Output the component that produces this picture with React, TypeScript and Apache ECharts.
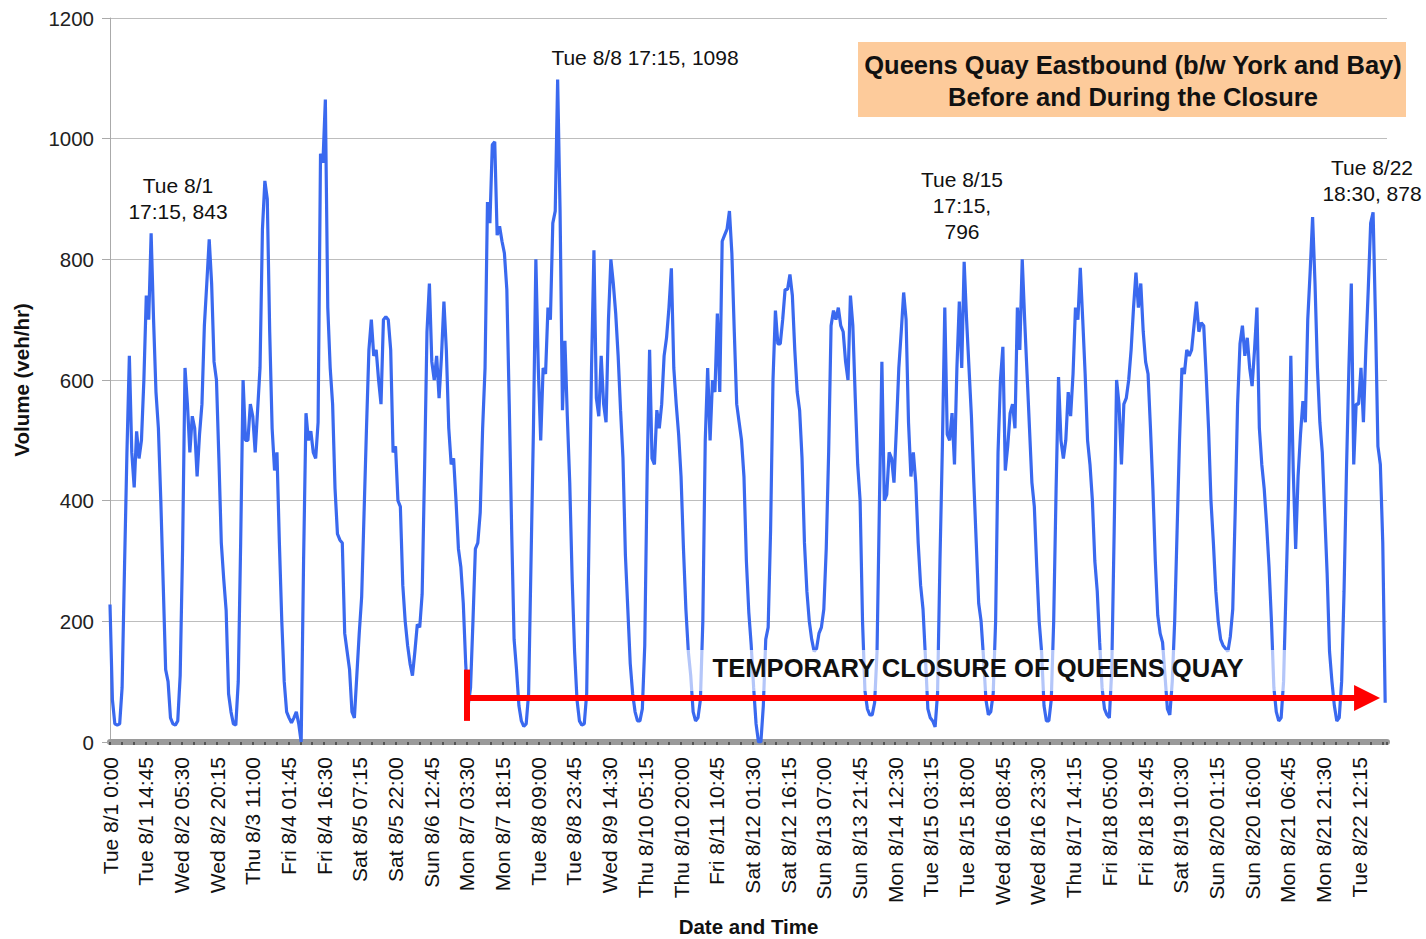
import React, { useEffect, useRef } from 'react';
import * as echarts from 'echarts';

// Tick labels every 14:45 (59 quarter-hours)
const tickLabels = [
  'Tue 8/1 0:00', 'Tue 8/1 14:45', 'Wed 8/2 05:30', 'Wed 8/2 20:15', 'Thu 8/3 11:00',
  'Fri 8/4 01:45', 'Fri 8/4 16:30', 'Sat 8/5 07:15', 'Sat 8/5 22:00', 'Sun 8/6 12:45',
  'Mon 8/7 03:30', 'Mon 8/7 18:15', 'Tue 8/8 09:00', 'Tue 8/8 23:45', 'Wed 8/9 14:30',
  'Thu 8/10 05:15', 'Thu 8/10 20:00', 'Fri 8/11 10:45', 'Sat 8/12 01:30', 'Sat 8/12 16:15',
  'Sun 8/13 07:00', 'Sun 8/13 21:45', 'Mon 8/14 12:30', 'Tue 8/15 03:15', 'Tue 8/15 18:00',
  'Wed 8/16 08:45', 'Wed 8/16 23:30', 'Thu 8/17 14:15', 'Fri 8/18 05:00', 'Fri 8/18 19:45',
  'Sat 8/19 10:30', 'Sun 8/20 01:15', 'Sun 8/20 16:00', 'Mon 8/21 06:45', 'Mon 8/21 21:30',
  'Tue 8/22 12:15',
];

// Hourly volumes (veh/hr), hours 0..23, one array per day
const aug01 = [228, 70, 30, 28, 30, 90, 290, 480, 640, 480, 422, 515, 470, 500, 600, 740, 700, 843, 700, 580, 520, 400, 260, 120];
const aug02 = [100, 40, 30, 28, 35, 110, 320, 620, 560, 480, 540, 520, 440, 510, 560, 690, 760, 833, 760, 630, 600, 470, 330, 270];
const aug03 = [218, 80, 50, 30, 28, 100, 330, 600, 500, 500, 560, 540, 480, 550, 620, 850, 930, 900, 680, 520, 450, 480, 330, 200];
const aug04 = [100, 50, 40, 32, 40, 50, 30, 0, 300, 545, 500, 515, 480, 470, 530, 975, 960, 1065, 720, 620, 560, 420, 345, 335];
const aug05 = [330, 180, 150, 120, 50, 40, 110, 180, 240, 380, 520, 650, 700, 640, 650, 600, 560, 700, 705, 700, 650, 480, 490, 400];
const aug06 = [390, 260, 200, 160, 130, 110, 150, 195, 190, 245, 450, 680, 760, 630, 600, 640, 570, 640, 730, 650, 520, 460, 470, 400];
const aug07 = [320, 290, 230, 130, 60, 90, 200, 320, 330, 380, 520, 620, 895, 860, 990, 995, 840, 855, 830, 810, 750, 560, 350, 170];
const aug08 = [120, 60, 35, 26, 30, 80, 300, 520, 800, 620, 500, 620, 610, 720, 700, 860, 880, 1098, 880, 550, 665, 540, 430, 270];
const aug09 = [150, 70, 35, 28, 30, 80, 350, 620, 815, 570, 540, 640, 560, 530, 700, 800, 760, 710, 640, 550, 470, 310, 220, 130];
const aug10 = [80, 50, 35, 35, 55, 160, 450, 650, 470, 460, 550, 520, 560, 640, 670, 720, 785, 620, 560, 510, 440, 320, 220, 150];
const aug11 = [110, 50, 35, 40, 70, 200, 500, 620, 500, 600, 580, 710, 580, 830, 840, 850, 880, 810, 680, 560, 530, 500, 440, 300];
const aug12 = [215, 160, 90, 30, 0, 0, 60, 170, 190, 350, 600, 715, 660, 660, 700, 750, 750, 775, 740, 650, 580, 550, 470, 330];
const aug13 = [250, 200, 170, 150, 155, 180, 190, 220, 320, 480, 690, 715, 700, 720, 690, 680, 630, 600, 740, 690, 570, 460, 400, 200];
const aug14 = [85, 55, 45, 45, 65, 150, 400, 630, 400, 410, 480, 470, 430, 520, 620, 680, 745, 700, 530, 440, 480, 430, 330, 260];
const aug15 = [220, 140, 55, 40, 35, 25, 80, 300, 490, 720, 510, 500, 545, 460, 620, 730, 620, 796, 700, 620, 540, 430, 330, 230];
const aug16 = [200, 140, 70, 45, 50, 80, 200, 480, 600, 655, 450, 490, 545, 560, 520, 720, 650, 800, 700, 610, 520, 430, 390, 290];
const aug17 = [200, 150, 60, 35, 35, 70, 200, 420, 605, 500, 470, 500, 580, 540, 610, 720, 700, 786, 700, 610, 500, 460, 400, 300];
const aug18 = [250, 165, 90, 55, 45, 40, 120, 350, 600, 560, 460, 560, 570, 600, 650, 720, 778, 720, 760, 680, 630, 610, 520, 420];
const aug19 = [300, 210, 180, 165, 110, 55, 45, 100, 200, 350, 500, 620, 610, 650, 640, 650, 690, 730, 680, 695, 690, 610, 520, 400];
const aug20 = [330, 250, 200, 170, 160, 155, 150, 175, 220, 380, 560, 660, 690, 640, 670, 620, 590, 650, 720, 520, 460, 420, 360, 290];
const aug21 = [200, 90, 50, 35, 40, 100, 250, 400, 640, 450, 320, 440, 510, 565, 530, 700, 780, 870, 760, 620, 530, 480, 380, 280];
const aug22 = [150, 100, 60, 35, 40, 100, 250, 450, 620, 760, 460, 560, 560, 620, 530, 650, 750, 860, 878, 700, 490, 460, 330, 65];

const days = [aug01, aug02, aug03, aug04, aug05, aug06, aug07, aug08, aug09, aug10, aug11,
  aug12, aug13, aug14, aug15, aug16, aug17, aug18, aug19, aug20, aug21, aug22];

// closure arrow (quarter-hour index, volume)
const closureStart = 590; // Mon 8/7 03:30
const closureEnd = 2078;
const arrowLevel = 73;

const FONT = '"Liberation Sans", Arial, Helvetica, sans-serif';

export default function App() {
  const ref = useRef<HTMLDivElement>(null);
  useEffect(() => {
    if (!ref.current) return;
    const chart = echarts.init(ref.current, null, { renderer: 'svg' });
    const data: number[][] = [];
    days.forEach((arr, d) => arr.forEach((v, h) => data.push([d * 96 + h * 4, v])));

    const txt = (text: string, x: number, y: number, size: number, bold = false, z = 20) => ({
      type: 'text', x, y, z,
      style: {
        text, fill: '#111',
        font: `${bold ? 'bold ' : ''}${size}px ${FONT}`,
        align: 'center', verticalAlign: 'middle',
        textAlign: 'center', textVerticalAlign: 'middle',
      },
    });

    chart.setOption({
      animation: false,
      textStyle: { fontFamily: FONT },
      grid: { left: 110, right: 39, top: 18, bottom: 197, containLabel: false, outerBoundsMode: 'none' },
      xAxis: {
        type: 'value', min: 0, max: 2111, interval: 59, offset: 3,
        name: 'Date and Time', nameLocation: 'middle', nameGap: 171,
        nameTextStyle: { fontSize: 20.5, fontWeight: 'bold', color: '#111', fontFamily: FONT },
        axisLine: { show: true, lineStyle: { color: '#9a9a9a', width: 6 } },
        axisTick: { show: true, length: 3, lineStyle: { color: '#555', width: 2 } },
        minorTick: { show: true, splitNumber: 3, length: 3, lineStyle: { color: '#555', width: 2 } },
        splitLine: { show: false },
        axisLabel: {
          rotate: 90, fontSize: 21, color: '#111', margin: 12, fontFamily: FONT,
          formatter: (v: number) => (v % 59 === 0 && tickLabels[v / 59] ? tickLabels[v / 59] : ''),
        },
      },
      yAxis: {
        type: 'value', min: 0, max: 1200, interval: 200,
        name: 'Volume (veh/hr)', nameLocation: 'middle', nameGap: 78,
        nameTextStyle: { fontSize: 20.5, fontWeight: 'bold', color: '#111', fontFamily: FONT },
        axisLine: { show: true, lineStyle: { color: '#aaa', width: 1 } },
        axisTick: { show: true, length: 8, lineStyle: { color: '#aaa' } },
        splitLine: { show: true, lineStyle: { color: '#bdbdbd', width: 1 } },
        axisLabel: { fontSize: 20.5, color: '#222', margin: 16, fontFamily: FONT, formatter: (v: number) => String(v) },
      },
      series: [{
        type: 'line',
        data,
        showSymbol: false,
        symbol: 'none',
        z: 2,
        lineStyle: { color: '#3A69EF', width: 3.2 },
        itemStyle: { color: '#3A69EF' },
        markLine: {
          silent: true,
          animation: false,
          symbol: ['none', 'none'],
          label: { show: false },
          lineStyle: { color: '#FF0000', width: 6, type: 'solid', opacity: 1 },
          data: [
            [{ coord: [closureStart, arrowLevel] }, { coord: [closureEnd, arrowLevel], symbol: 'triangle', symbolSize: 26 }],
            [{ coord: [closureStart, 35] }, { coord: [closureStart, 120] }],
          ],
        },
      }],
      graphic: [
        { type: 'rect', z: 15, shape: { x: 686, y: 650, width: 604, height: 41 }, style: { fill: 'rgba(255,255,255,0.62)' } },
        txt('TEMPORARY CLOSURE OF QUEENS QUAY', 978, 668, 25.6, true),
        { type: 'rect', z: 15, shape: { x: 858, y: 42, width: 548, height: 75 }, style: { fill: '#FDCB9B' } },
        txt('Queens Quay Eastbound (b/w York and Bay)', 1133, 65, 25.5, true),
        txt('Before and During the Closure', 1133, 97, 25.5, true),
        txt('Tue 8/1', 178, 185, 21),
        txt('17:15, 843', 178, 211, 21),
        txt('Tue 8/8 17:15, 1098', 645, 57, 21),
        txt('Tue 8/15', 962, 179, 21),
        txt('17:15,', 962, 205, 21),
        txt('796', 962, 231, 21),
        txt('Tue 8/22', 1372, 167, 21),
        txt('18:30, 878', 1372, 193, 21),
      ],
    });
    return () => chart.dispose();
  }, []);
  return <div ref={ref} style={{ position: 'fixed', left: 0, top: 0, width: 1426, height: 939, background: '#fff' }} />;
}
